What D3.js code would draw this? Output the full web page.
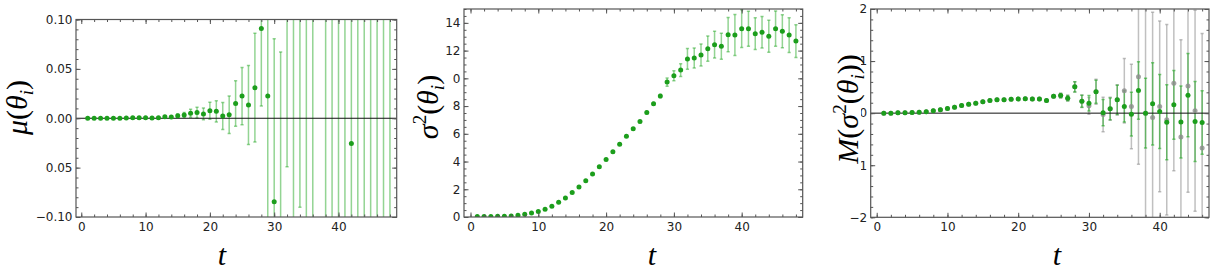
<!DOCTYPE html>
<html><head><meta charset="utf-8">
<script src="https://cdn.jsdelivr.net/npm/d3@7"></script>
<style>body{margin:0;background:#fff}svg{display:block}</style>
</head><body>
<script>
// ---------- DATA ----------
const tMu = [1,2,3,4,5,6,7,8,9,10,11,12,13,14,15,16,17,18,19,20,21,22,23,24,25,26,27,28,29,30,31,32,33,34,35,36,37,38,39,40,41,42,43,44,45,46,47,48];
const mu = [0,0,0,0,0,0,0.0002,0.0004,0.0005,0.0004,0.0002,0.0006,0.0015,0.0012,0.0025,0.0032,0.005,0.0057,0.0044,0.0077,0.007,0.0022,0.0035,0.015,0.0225,0.0134,0.031,0.091,0.0225,-0.0846,-0.14,0.15,0.18,0.16,-0.2,0.22,null,-0.25,0.3,-0.18,0.26,-0.0255,0.35,-0.3,0.28,-0.4,0.33,-0.38];
const muErr = [0.0003,0.0003,0.0003,0.0003,0.0003,0.0003,0.0005,0.0005,0.0005,0.0005,0.0005,0.0008,0.001,0.0012,0.0017,0.0025,0.004,0.0054,0.006,0.0086,0.0108,0.0137,0.019,0.023,0.029,0.040,0.055,0.0786,0.14,0.165,0.207,0.199,0.4,0.25,0.45,0.5,null,0.55,0.6,0.5,0.55,0.45,0.6,0.65,0.6,0.7,0.7,0.75];

const tSig = [1,2,3,4,5,6,7,8,9,10,11,12,13,14,15,16,17,18,19,20,21,22,23,24,25,26,27,28,29,30,31,32,33,34,35,36,37,38,39,40,41,42,43,44,45,46,47,48];
const sigma2 = [0.03,0.04,0.04,0.05,0.06,0.08,0.12,0.2,0.29,0.39,0.55,0.77,1.06,1.37,1.76,2.16,2.62,3.1,3.62,4.15,4.7,5.25,5.82,6.37,6.88,7.53,8.17,8.72,9.73,10.19,10.6,11.4,11.47,11.68,12.14,12.43,12.31,13.15,13.12,13.58,13.58,13.22,13.32,13.03,13.58,13.39,13.12,12.69];
const sigma2Err = [0.005,0.005,0.005,0.005,0.005,0.005,0.01,0.01,0.01,0.01,0.015,0.015,0.02,0.02,0.025,0.03,0.03,0.04,0.04,0.05,0.05,0.06,0.06,0.07,0.07,0.08,0.09,0.12,0.3,0.36,0.46,0.75,0.72,0.79,0.91,0.96,0.94,1.24,1.48,1.36,1.26,1.14,1.14,1.15,1.27,1.19,1.25,1.18];

const tM = [1,2,3,4,5,6,7,8,9,10,11,12,13,14,15,16,17,18,19,20,21,22,23,24,25,26,27,28,29,30,31,32,33,34,35,36,37,38,39,40,41,42,43,44,45,46];
const mGreen = [0,0,0.006,0.006,0.012,0.019,0.025,0.044,0.063,0.089,0.115,0.146,0.172,0.19,0.217,0.242,0.255,0.258,0.265,0.274,0.277,0.274,0.274,0.242,0.326,0.338,0.288,0.505,0.23,0.19,0.41,0.01,0.083,0.256,0.128,-0.02,0.435,0,0.18,0.03,-0.173,0.16,-0.17,0.345,-0.16,-0.18];
const mGreenErr = [0.004,0.004,0.004,0.004,0.005,0.005,0.005,0.006,0.006,0.007,0.007,0.008,0.008,0.009,0.009,0.01,0.01,0.011,0.012,0.012,0.013,0.014,0.015,0.016,0.025,0.04,0.05,0.1,0.115,0.15,0.22,0.25,0.21,0.28,0.3,0.42,0.55,0.67,0.79,0.71,0.72,0.66,0.69,0.8,0.77,0.61];
const mGray = [0,0,0.006,0.006,0.012,0.019,0.025,0.044,0.063,0.089,0.115,0.146,0.172,0.19,0.217,0.242,0.255,0.258,0.265,0.274,0.277,0.274,0.274,0.242,0.326,0.338,0.288,0.505,0.23,0.14,0.41,-0.026,0.083,0.256,0.43,0.128,0.70,0,-0.083,0.13,-0.128,0.576,-0.46,0.52,0.045,-0.67];
const mGrayErr = [0.004,0.004,0.004,0.004,0.005,0.005,0.005,0.006,0.006,0.007,0.007,0.008,0.008,0.009,0.009,0.01,0.01,0.011,0.012,0.012,0.013,0.014,0.015,0.016,0.025,0.045,0.055,0.1,0.12,0.16,0.24,0.33,0.22,0.29,0.62,0.81,1.68,2.3,2.02,1.64,1.83,1.68,1.87,2.04,1.93,2.2];

const xTickVals = [0,10,20,30,40];
const xTickLabels = ["0","10","20","30","40"];
const yTickVals1 = [-0.10,-0.05,0,0.05,0.10];
const yTickLabels1 = ["\u22120.10","\u22120.05","0.00","0.05","0.10"];
const yTickVals2 = [0,2,4,6,8,10,12,14];
const yTickLabels2 = ["0","2","4","6","8","10","12","14"];
const yTickVals3 = [-2,-1,0,1,2];
const yTickLabels3 = ["\u22122","\u22121","0","1","2"];

// ---------- LAYOUT ----------
const W = 1224, H = 280;
const svg = d3.select("body").append("svg").attr("width", W).attr("height", H);

const GREEN = "#1c9e1c";
const GREEN_BAR = "rgba(40,170,40,0.5)";
const GRAY = "rgba(140,140,140,0.8)";
const GRAY_BAR = "rgba(150,150,150,0.6)";

const panels = [
  {L:76, R:396.7, T:19.5, B:217, xd:[-0.82,49.05], yd:[-0.1,0.1],
   xMinor: d3.range(0,50,2), yMinor: d3.range(-0.1,0.1001,0.01),
   yVals: yTickVals1, yLabels: yTickLabels1, zero:true,
   series:[{t:tMu, v:mu, e:muErr, bar:GREEN_BAR, pt:GREEN}],
   ylab:{x:27, y:107.5, box:[0,35,45,145]}, label:"mu", tx:222},
  {L:464, R:802.7, T:9, B:217, xd:[-0.96,49], yd:[0,15],
   xMinor: d3.range(0,50,2), yMinor: d3.range(0,15.01,0.5),
   yVals: yTickVals2, yLabels: yTickLabels2, zero:false,
   series:[{t:tSig, v:sigma2, e:sigma2Err, bar:GREEN_BAR, pt:GREEN}],
   ylab:{x:438, y:107, box:[405,62,48,90]}, label:"sigma", tx:652},
  {L:870.7, R:1209, T:9, B:217.3, xd:[-0.85,46.97], yd:[-2,2],
   xMinor: d3.range(0,48,2), yMinor: d3.range(-2,2.001,0.2),
   yVals: yTickVals3, yLabels: yTickLabels3, zero:true,
   series:[{t:tM, v:mGray, e:mGrayErr, bar:GRAY_BAR, pt:GRAY, gray:true},
           {t:tM, v:mGreen, e:mGreenErr, bar:"rgba(40,170,40,0.6)", pt:GREEN}],
   ylab:{x:858, y:109, box:[820,48,41,127]}, label:"M", tx:1057},
];

panels.forEach((p, pi) => {
  const x = d3.scaleLinear().domain(p.xd).range([p.L, p.R]);
  const y = d3.scaleLinear().domain(p.yd).range([p.B, p.T]);
  const g = svg.append("g");
  const clipId = "clip" + pi;
  svg.append("clipPath").attr("id", clipId).append("rect")
    .attr("x", p.L).attr("y", p.T).attr("width", p.R - p.L).attr("height", p.B - p.T);

  const plot = g.append("g").attr("clip-path", `url(#${clipId})`);

  // error bars
  p.series.forEach(s => {
    const pts = s.t.map((t, i) => ({t, v: s.v[i], e: s.e[i]})).filter(d => d.v !== null);
    const bg = plot.append("g").attr("stroke", s.bar).attr("stroke-width", 1.5).attr("fill", "none");
    pts.forEach(d => {
      const xx = x(d.t), y1 = y(d.v - d.e), y2 = y(d.v + d.e);
      bg.append("line").attr("x1", xx).attr("x2", xx).attr("y1", y1).attr("y2", y2);
      bg.append("line").attr("x1", xx - 1.6).attr("x2", xx + 1.6).attr("y1", y1).attr("y2", y1);
      bg.append("line").attr("x1", xx - 1.6).attr("x2", xx + 1.6).attr("y1", y2).attr("y2", y2);
    });
  });

  if (p.zero) {
    plot.append("line").attr("x1", p.L).attr("x2", p.R).attr("y1", y(0)).attr("y2", y(0))
      .attr("stroke", "#111").attr("stroke-width", 1);
  }

  p.series.forEach(s => {
    const pts = s.t.map((t, i) => ({t, v: s.v[i]})).filter(d => d.v !== null);
    plot.append("g").selectAll("circle").data(pts).join("circle")
      .attr("cx", d => x(d.t)).attr("cy", d => y(d.v)).attr("r", 2.5)
      .attr("fill", s.pt);
  });

  // axes (inward ticks on all four sides)
  const tickStyle = sel => {
    sel.select(".domain").remove();
    sel.selectAll("line").attr("stroke", "#555").attr("stroke-width", 1);
    sel.selectAll("text").attr("fill", "#222").style("font-family", "DejaVu Sans").style("font-size", "12px");
  };
  const fmtX = d => xTickLabels[xTickVals.indexOf(d)];
  const fmtY = d => p.yLabels[p.yVals.indexOf(d)];

  g.append("g").attr("transform", `translate(0,${p.B})`)
    .call(d3.axisBottom(x).tickValues(xTickVals).tickSize(-4.5).tickPadding(5).tickFormat(fmtX)).call(tickStyle);
  g.append("g").attr("transform", `translate(0,${p.B})`)
    .call(d3.axisBottom(x).tickValues(p.xMinor).tickSize(-2.5).tickFormat("")).call(tickStyle);
  g.append("g").attr("transform", `translate(0,${p.T})`)
    .call(d3.axisTop(x).tickValues(xTickVals).tickSize(-4.5).tickFormat("")).call(tickStyle);
  g.append("g").attr("transform", `translate(0,${p.T})`)
    .call(d3.axisTop(x).tickValues(p.xMinor).tickSize(-2.5).tickFormat("")).call(tickStyle);

  g.append("g").attr("transform", `translate(${p.L},0)`)
    .call(d3.axisLeft(y).tickValues(p.yVals).tickSize(-4.5).tickPadding(3.5).tickFormat(fmtY)).call(tickStyle);
  g.append("g").attr("transform", `translate(${p.L},0)`)
    .call(d3.axisLeft(y).tickValues(p.yMinor).tickSize(-2.5).tickFormat("")).call(tickStyle);
  g.append("g").attr("transform", `translate(${p.R},0)`)
    .call(d3.axisRight(y).tickValues(p.yVals).tickSize(-4.5).tickFormat("")).call(tickStyle);
  g.append("g").attr("transform", `translate(${p.R},0)`)
    .call(d3.axisRight(y).tickValues(p.yMinor).tickSize(-2.5).tickFormat("")).call(tickStyle);

  // frame
  g.append("rect").attr("x", p.L).attr("y", p.T).attr("width", p.R - p.L).attr("height", p.B - p.T)
    .attr("fill", "none").attr("stroke", "#555").attr("stroke-width", 1.2);

  // y label with white background box (covers part of tick labels as in reference)
  const b = p.ylab.box;
  g.append("rect").attr("x", b[0]).attr("y", b[1]).attr("width", b[2]).attr("height", b[3]).attr("fill", "#fff");
  const yl = g.append("text")
    .attr("transform", `translate(${p.ylab.x},${p.ylab.y}) rotate(-90)`)
    .attr("text-anchor", "middle")
    .style("font-family", "Liberation Serif").style("font-size", "30px").attr("fill", "#000");
  const it = (txt) => yl.append("tspan").style("font-style", "italic").text(txt);
  const up = (txt) => yl.append("tspan").style("font-style", "normal").text(txt);
  if (p.label === "mu") {
    it("\u03bc"); up("("); it("\u03b8");
    yl.append("tspan").style("font-style","italic").style("font-size","19px").attr("dy","6").text("i");
    yl.append("tspan").attr("dy","-6").text(")");
  } else if (p.label === "sigma") {
    it("\u03c3");
    yl.append("tspan").style("font-size","19px").attr("dy","-12").text("2");
    yl.append("tspan").attr("dy","12").text("("); it("\u03b8");
    yl.append("tspan").style("font-style","italic").style("font-size","19px").attr("dy","6").text("i");
    yl.append("tspan").attr("dy","-6").text(")");
  } else {
    it("M"); up("("); it("\u03c3");
    yl.append("tspan").style("font-size","19px").attr("dy","-12").text("2");
    yl.append("tspan").attr("dy","12").text("("); it("\u03b8");
    yl.append("tspan").style("font-style","italic").style("font-size","19px").attr("dy","6").text("i");
    yl.append("tspan").attr("dy","-6").text("))");
  }

  // x label
  g.append("text").attr("x", p.tx).attr("y", 265).attr("text-anchor", "middle")
    .style("font-family", "Liberation Serif").style("font-style", "italic").style("font-size", "30px")
    .text("t");
});
</script>
</body></html>
